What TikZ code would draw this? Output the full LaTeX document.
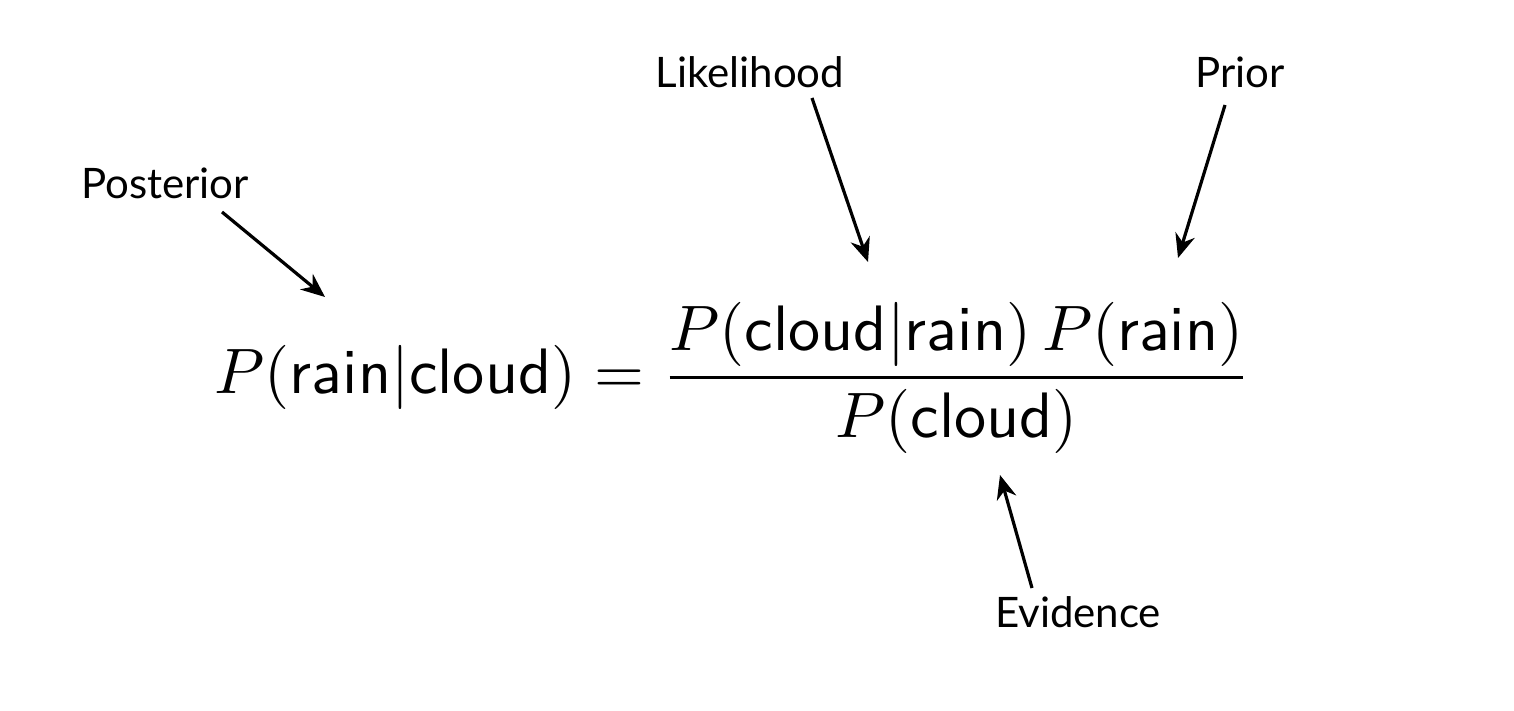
\documentclass[tikz,border=0pt]{standalone}
\usepackage{fontspec}
\usepackage{graphicx}
\setmainfont{Lato}
\usetikzlibrary{arrows.meta}
\begin{document}
\begin{tikzpicture}[x=0.5pt,y=-0.5pt,
  lbl/.style={font=\fontsize{21}{24}\selectfont, inner sep=0pt},
  arr/.style={-{Stealth[length=12pt,width=10pt]}, line width=1.6pt}]
\useasboundingbox (0,0) rectangle (1514,711);
\node[lbl] (lik) at (750,72) {Likelihood};
\node[lbl] (pri) at (1240,72) {Prior};
\node[lbl] (pos) at (165,183) {Posterior};
\node[lbl] (evi) at (1078,612) {Evidence};
\node[inner sep=0pt] (eq) at (733,378) {\resizebox{518pt}{!}{$\displaystyle P(\textsf{rain}|\textsf{cloud}) = \frac{P(\textsf{cloud}|\textsf{rain})\,P(\textsf{rain})}{P(\textsf{cloud})}$}};
\coordinate (likT) at (868,262);
\coordinate (priT) at (1178,258);
\coordinate (posT) at (325,297);
\coordinate (eviT) at (1000,475);
\draw[arr] (812,98) -- (likT);
\draw[arr] (1225,105) -- (priT);
\draw[arr] (222,212) -- (posT);
\draw[arr] (1032,588) -- (eviT);
\end{tikzpicture}
\end{document}
